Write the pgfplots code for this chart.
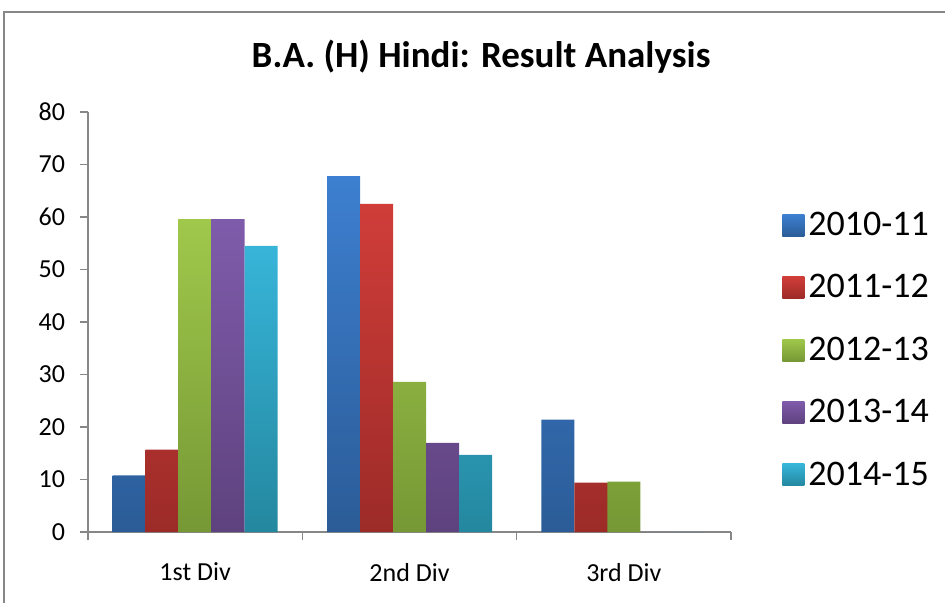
\documentclass[border=0pt]{standalone}
\usepackage{pgfplots}
\pgfplotsset{compat=1.18}
\usepackage{fontspec}
\setmainfont{Carlito}

\definecolor{blueT}{HTML}{3D7FD0}
\definecolor{blueB}{HTML}{2B5C97}
\definecolor{redT}{HTML}{D03D39}
\definecolor{redB}{HTML}{9C2B28}
\definecolor{greenT}{HTML}{A0C84B}
\definecolor{greenB}{HTML}{769835}
\definecolor{purpT}{HTML}{7F5CAB}
\definecolor{purpB}{HTML}{5E427E}
\definecolor{cyanT}{HTML}{37B5D9}
\definecolor{cyanB}{HTML}{24879F}
\definecolor{axgray}{HTML}{878787}

\begin{document}
\begin{tikzpicture}
% canvas: 945 x 603 px at 0.5pt per px
\useasboundingbox (0,0) rectangle (472.5pt,-301.5pt);
\draw[axgray, line width=1pt] (2pt,-301.5pt) -- (2pt,-6pt) -- (472.5pt,-6pt);
\node[anchor=base, font=\bfseries\fontsize{18.5}{20}\selectfont] at (240.5pt,-34pt)
  {B.A. (H) Hindi: Result Analysis};

\begin{axis}[
    at={(44pt,-266pt)}, anchor=south west,
    scale only axis,
    width=321.5pt, height=210pt,
    axis lines*=left,
    axis line style={axgray, line width=0.8pt},
    ybar=0pt, bar width=16.5pt,
    xmin=-0.5, xmax=2.5,
    ymin=0, ymax=80,
    xtick={0,1,2},
    xticklabels={1st Div,2nd Div,3rd Div},
    minor xtick={-0.5,0.5,1.5,2.5},
    ytick={0,10,...,80},
    tick align=outside,
    major tick length=4pt, minor tick length=4pt,
    major x tick style={draw=none},
    tick style={axgray, line width=0.8pt},
    minor tick style={axgray, line width=0.8pt},
    /pgf/number format/assume math mode=true,
    ticklabel style={font=\fontsize{13}{15}\selectfont, text=black},
    xticklabel style={yshift=-8pt},
    yticklabel style={xshift=-4pt},
    legend style={at={(1.07,0.433)}, anchor=west, draw=none, fill=none,
      font=\fontsize{18}{20}\selectfont, row sep=14pt,
      /tikz/every even column/.append style={column sep=2pt}},
    legend cell align=left,
    legend image code/.code={\path[#1] (0pt,-5.5pt) rectangle (11pt,5.5pt);},
  ]
  \addplot[draw=none, top color=blueT, bottom color=blueB]
    coordinates {(0,10.8) (1,67.8) (2,21.4)};
  \addplot[draw=none, top color=redT, bottom color=redB]
    coordinates {(0,15.7) (1,62.5) (2,9.4)};
  \addplot[draw=none, top color=greenT, bottom color=greenB]
    coordinates {(0,59.6) (1,28.6) (2,9.6)};
  \addplot[draw=none, top color=purpT, bottom color=purpB]
    coordinates {(0,59.6) (1,17.0) (2,0)};
  \addplot[draw=none, top color=cyanT, bottom color=cyanB]
    coordinates {(0,54.5) (1,14.7) (2,0)};
  \legend{2010-11,2011-12,2012-13,2013-14,2014-15}
\end{axis}
\end{tikzpicture}
\end{document}
